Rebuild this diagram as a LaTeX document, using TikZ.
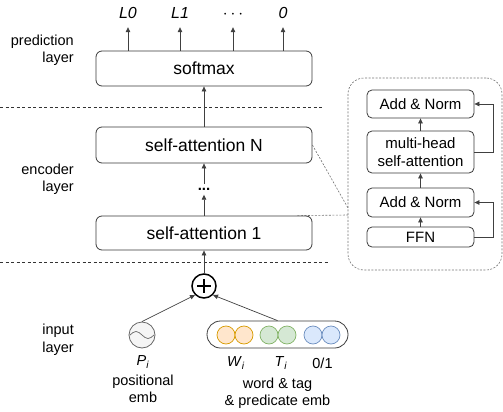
\documentclass[tikz,border=0pt]{standalone}
\usepackage{fontspec}
\setmainfont{Liberation Sans}
\usetikzlibrary{arrows.meta,calc}
\definecolor{orF}{HTML}{FFE6CC}\definecolor{orD}{HTML}{D79B00}
\definecolor{grF}{HTML}{D5E8D4}\definecolor{grD}{HTML}{82B366}
\definecolor{blF}{HTML}{DAE8FC}\definecolor{blD}{HTML}{6C8EBF}
\definecolor{posF}{HTML}{F5F5F5}\definecolor{posD}{HTML}{666666}
\definecolor{lineC}{HTML}{3A3A3A}
\begin{document}
\begin{tikzpicture}[x=1pt,y=-1pt,
  font=\fontsize{15}{17.5}\selectfont,
  bigbox/.style={draw=lineC,line width=0.8pt,rounded corners=6pt,minimum width=216pt,inner sep=0pt,font=\fontsize{17.5}{20}\selectfont},
  smallbox/.style={draw=lineC,line width=0.8pt,rounded corners=5pt,minimum width=107pt,inner sep=0pt,align=center,font=\fontsize{15}{18}\selectfont},
  arr/.style={-{Triangle[length=5pt,width=4.5pt]},draw=black!75,line width=0.7pt},
  sepline/.style={draw=black!80,dash pattern=on 3pt off 2.5pt,line width=0.6pt},
  fineline/.style={draw=black!55,dash pattern=on 2pt off 1.5pt,line width=0.6pt},
  side/.style={anchor=east,align=right,inner sep=0pt,font=\fontsize{14.5}{17.5}\selectfont},
  toplab/.style={anchor=base,inner xsep=0pt,inner ysep=8.7pt,text height=11.6pt,text depth=0pt,font=\fontsize{16}{19}\selectfont\itshape},
  embc/.style={circle,minimum size=18pt,inner sep=0pt,line width=0.7pt},
  bottomlab/.style={align=center,inner sep=0pt,font=\fontsize{14.5}{17}\selectfont},
]
\useasboundingbox (0,0) rectangle (503,412);

% separators
\draw[sepline] (0,107) -- (324,107);
\draw[sepline] (0,262.5) -- (328,262.5);

% side labels
\node[side] (lp) at (74,50.5) {prediction\\layer};
\node[side] (le) at (74,179) {encoder\\layer};
\node[side] (li) at (74,339.5) {input\\layer};

% main boxes
\node[bigbox,minimum height=35pt] (softmax) at (204,68.5) {softmax};
\node[bigbox,minimum height=36pt] (sN) at (204,145) {self-attention N};
\node[bigbox,minimum height=34pt] (s1) at (204,233) {self-attention 1};
\node[anchor=base,inner xsep=0pt,inner ysep=4pt,text height=2.5pt,text depth=0pt,font=\fontsize{15}{17}\selectfont\bfseries] (dots) at (204,190.5) {...};

% top labels
\node[toplab] (l0) at (128,18.3) {L0};
\node[toplab] (l1) at (180,18.3) {L1};
\node[toplab] (ld) at (233,18.3) {$\cdots$};
\node[toplab] (lz) at (283,18.3) {0};

\foreach \n in {l0,l1,ld,lz}
  \draw[arr] (softmax.north -| \n) -- (\n.south);

\draw[arr] (sN.north) -- (softmax.south);
\draw[arr] (dots.north) -- (sN.south);
\draw[arr] (s1.north) -- (dots.south);

% input layer
\node[circle,draw=black,line width=1.5pt,minimum size=24pt,inner sep=0pt] (plus) at (204,286) {};
\draw[line width=1.5pt] ($(plus)+(-7,0)$) -- ($(plus)+(7,0)$) ($(plus)+(0,-7)$) -- ($(plus)+(0,7)$);
\draw[arr] (plus.north) -- (s1.south);

\node[circle,draw=posD,fill=posF,line width=0.8pt,minimum size=26pt,inner sep=0pt] (pos) at (142,335) {};
\draw[posD,line width=0.7pt] ($(pos)+(-12,0)$) sin ++(6,-3.5) cos ++(6,3.5) sin ++(6,3.5) cos ++(6,-3.5);

\node[draw=lineC,line width=0.8pt,rounded corners=13.5pt,minimum width=141pt,minimum height=27pt,inner sep=0pt] (pill) at (277.5,334.5) {};
\node[embc,draw=orD,fill=orF] (w1) at (226,335) {};
\node[embc,draw=orD,fill=orF] (w2) at (244,335) {};
\node[embc,draw=grD,fill=grF] (t1) at (269,335) {};
\node[embc,draw=grD,fill=grF] (t2) at (287,335) {};
\node[embc,draw=blD,fill=blF] (b1) at (313,335) {};
\node[embc,draw=blD,fill=blF] (b2) at (331,335) {};

\draw[arr] (pos.north) -- (plus.south west);
\draw[arr] (pill.north) -- (plus.south east);

\node[bottomlab] (pl) at (143,362) {\textit{P}\textsubscript{\textit{i}}};
\node[bottomlab] (wl) at (236,363) {\textit{W}\textsubscript{\textit{i}}};
\node[bottomlab] (tl) at (281,363) {\textit{T}\textsubscript{\textit{i}}};
\node[bottomlab] (zl) at (322.5,363) {0/1};
\node[bottomlab] (pt) at (143,389) {positional\\emb};
\node[bottomlab] (wt) at (277.5,393.5) {word \& tag\\\& predicate emb};

% right panel
\node[fineline,draw,rounded corners=16pt,minimum width=154pt,minimum height=192pt,inner sep=0pt] (panel) at (425,174) {};
\node[smallbox,minimum height=28pt] (an1) at (420.5,104) {Add \& Norm};
\node[smallbox,minimum height=42pt] (mh) at (420.5,152) {multi-head\\self-attention};
\node[smallbox,minimum height=29pt] (an2) at (420.5,202.5) {Add \& Norm};
\node[smallbox,minimum height=20pt] (ffn) at (420.5,237) {FFN};
\coordinate (rx) at (493,0);
\draw[arr] (ffn.north) -- (an2.south);
\draw[arr] (an2.north) -- (mh.south);
\draw[arr] (mh.north) -- (an1.south);
\draw[arr] (ffn.east) -| (rx |- an2.east) -- (an2.east);
\draw[arr] (mh.east) -| (rx |- an1.east) -- (an1.east);

% zoom lines
\coordinate (pA) at (348,208);
\coordinate (pB) at (348,215);
\draw[fineline] (sN.east) -- (pA);
\draw[fineline] ([xshift=-15pt]s1.north east) -- (pB);
\end{tikzpicture}
\end{document}
